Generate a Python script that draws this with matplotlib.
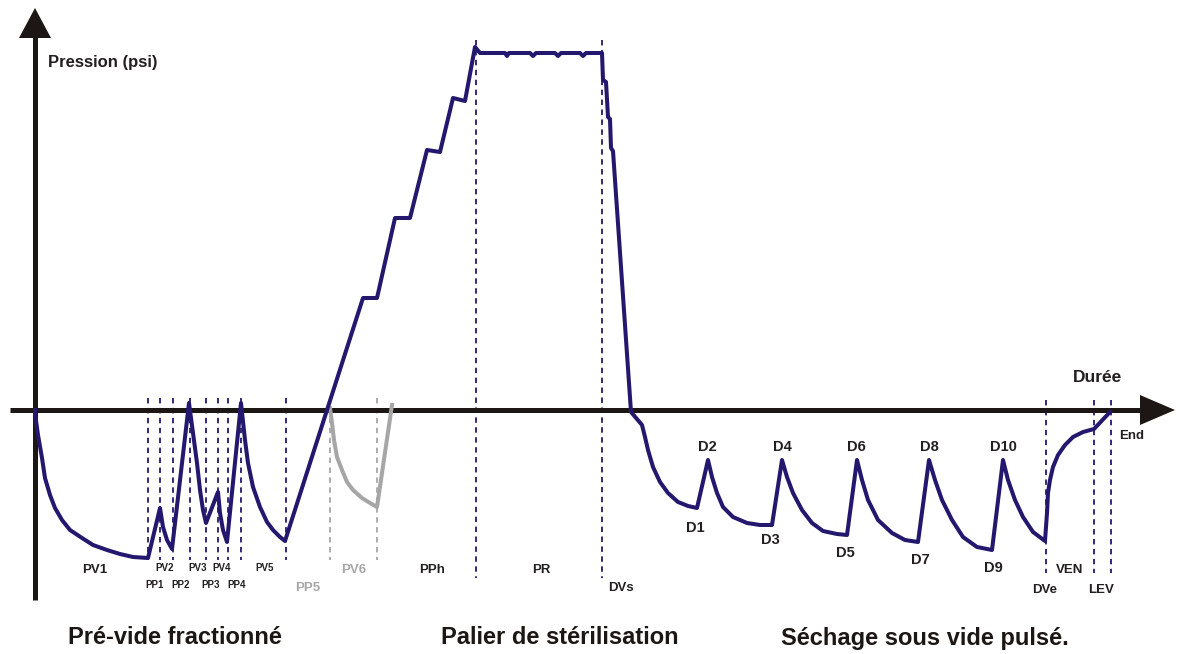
import matplotlib
matplotlib.use("Agg")
import matplotlib.pyplot as plt

# Pression cycle (time in px units, pressure relative to atmosphere, px units)
time = [35, 35, 38, 42, 45, 50, 55, 62, 70, 82, 93, 107, 120, 133, 148,
        160, 163, 167, 172,
        189, 193, 197, 200, 203, 206,
        218, 220, 223, 227,
        241, 245, 248, 253, 260, 267, 273, 280, 285,
        327, 363, 377, 395, 410, 427, 440, 453, 465, 475,
        480, 505, 507, 509, 530, 533, 536, 555, 558, 561, 580, 583, 586, 602,
        603, 606, 608, 610, 611, 613, 631,
        642, 645, 648, 653, 660, 668, 678, 688, 697,
        708, 712, 717, 723, 733, 747, 760, 772,
        782, 787, 793, 802, 812, 823, 837, 847,
        857, 862, 868, 878, 892, 905, 918,
        929, 935, 942, 952, 963, 977, 992,
        1003, 1008, 1015, 1023, 1033, 1045,
        1047, 1048, 1050, 1053, 1058, 1065, 1073, 1083, 1094, 1110]
pressure = [0, -3, -25, -48, -68, -85, -98, -110, -120, -128, -135, -140, -144, -147, -148,
            -98, -117, -130, -139,
            7, -23, -53, -80, -100, -113,
            -82, -103, -120, -132,
            7, -30, -53, -77, -97, -112, -120, -127, -131,
            0, 112, 112, 192, 192, 260, 258, 312, 309, 363,
            357, 357, 354, 357, 357, 354, 357, 357, 354, 357, 357, 354, 357, 357,
            330, 328, 293, 291, 262, 259, -2,
            -15, -27, -40, -57, -72, -83, -92, -96, -98,
            -50, -67, -83, -97, -107, -113, -115, -115,
            -50, -67, -83, -100, -113, -121, -124, -125,
            -50, -70, -90, -110, -123, -130, -132,
            -50, -70, -90, -110, -127, -137, -140,
            -50, -70, -90, -107, -122, -131,
            -103, -83, -70, -57, -45, -35, -27, -22, -19, -2]

# PV6 (cycle optionnel, en gris)
pv6_time = [330, 332, 334, 337, 342, 347, 353, 362, 370, 377, 392]
pv6_pressure = [2, -13, -30, -47, -60, -72, -80, -88, -93, -97, 5]

# phase boundaries
phase_x = [148, 160, 173, 190, 206, 218, 228, 241, 286]
grey_x = [330, 377]
plateau_x = [476, 602]
end_x = [1046, 1094, 1111]

phase_labels = [("PV1", 95, -160, 9.5), ("PV2", 165, -158, 7), ("PV3", 198, -158, 7),
                ("PV4", 222, -158, 7), ("PV5", 265, -158, 7),
                ("PP1", 155, -175, 7), ("PP2", 181, -175, 7),
                ("PP3", 211, -175, 7), ("PP4", 237, -175, 7),
                ("PPh", 432, -160, 9.5), ("PR", 541, -160, 9.5), ("DVs", 621, -178, 9.5),
                ("DVe", 1045, -180, 9.5), ("VEN", 1070, -160, 9.5), ("LEV", 1101, -180, 9.5),
                ("End", 1132, -26, 9.5)]
grey_labels = [("PP5", 308, -178, 9.5), ("PV6", 354, -160, 9.5)]
d_labels = [("D1", 695, -118), ("D2", 707, -37), ("D3", 770, -130), ("D4", 782, -37),
            ("D5", 845, -143), ("D6", 856, -37), ("D7", 920, -150), ("D8", 929, -37),
            ("D9", 993, -158), ("D10", 1003, -37)]
titles = [("Pré-vide fractionné", 175), ("Palier de stérilisation", 560),
          ("Séchage sous vide pulsé.", 925)]

NAVY = '#24186e'
GREY = '#a6a6a6'
BLACK = '#1c1714'
TXT = '#231f20'
SANS = ['Liberation Sans', 'DejaVu Sans']

fig = plt.figure(figsize=(11.82, 6.54), dpi=100)
ax = fig.add_axes([0, 0, 1, 1])
ax.set_xlim(0, 1182)
ax.set_ylim(410 - 654, 410)
ax.axis('off')

# dashed phase markers
dash = dict(linestyle=(0, (3, 2.5)), linewidth=1.3)
for x in phase_x:
    ax.plot([x, x], [12, -150], color=NAVY, **dash)
for x in grey_x:
    ax.plot([x, x], [12, -150], color=GREY, **dash)
for x in plateau_x:
    ax.plot([x, x], [370, -168], color=NAVY, **dash)
for x in end_x:
    ax.plot([x, x], [10, -163], color=NAVY, **dash)

# axes with arrow heads
ax.plot([10, 1145], [0, 0], color=BLACK, linewidth=3.6, solid_capstyle='butt', zorder=3)
ax.fill([1140, 1175, 1140], [15, 0, -15], color=BLACK, zorder=3, linewidth=0)
ax.plot([35, 35], [-190, 375], color=BLACK, linewidth=3.6, solid_capstyle='butt', zorder=3)
ax.fill([19, 35, 51], [372, 402, 372], color=BLACK, zorder=3, linewidth=0)

ax.plot(pv6_time, pv6_pressure, color=GREY, linewidth=2.9, solid_joinstyle='round', zorder=4)
ax.plot(time, pressure, color=NAVY, linewidth=2.9, solid_joinstyle='round', zorder=5)

for txt, x, y, fs in phase_labels:
    ax.text(x, y, txt, ha='center', va='center', fontsize=fs, fontweight='bold',
            color=TXT, family=SANS)
for txt, x, y, fs in grey_labels:
    ax.text(x, y, txt, ha='center', va='center', fontsize=fs, fontweight='bold',
            color=GREY, family=SANS)
for txt, x, y in d_labels:
    ax.text(x, y, txt, ha='center', va='center', fontsize=10.5, fontweight='bold',
            color=TXT, family=SANS)

ax.text(48, 348, "Pression (psi)", ha='left', va='center', fontsize=12,
        fontweight='bold', color=TXT, family=SANS)
ax.text(1098, 32, "Durée", ha='center', va='center', fontsize=12.5,
        fontweight='bold', color=TXT, family=SANS)
for txt, x in titles:
    ax.text(x, -228, txt, ha='center', va='center', fontsize=17, fontweight='bold',
            color=BLACK, family=SANS)

fig.savefig('out.png', dpi=100)
